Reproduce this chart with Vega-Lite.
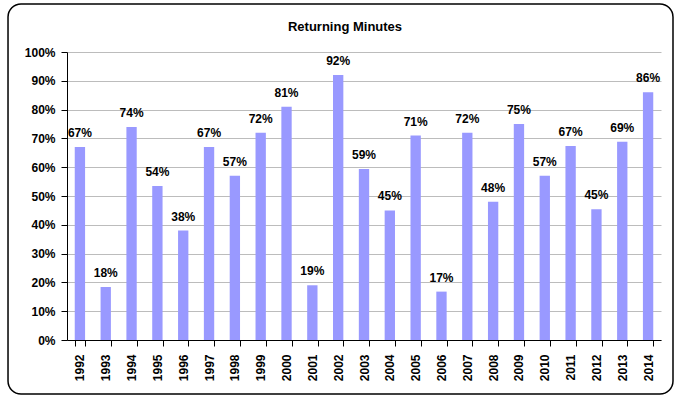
{
  "$schema": "https://vega.github.io/schema/vega-lite/v6.json",
  "width": 594,
  "height": 288,
  "autosize": {"type": "none"},
  "padding": {"left": 67, "top": 52, "right": 20, "bottom": 58},
  "background": "white",
  "config": {"view": {"stroke": null}, "font": "Liberation Sans"},
  "title": {"text": "Returning Minutes", "fontSize": 13, "fontWeight": "bold", "color": "black", "font": "Liberation Sans", "dx": -19, "offset": -31},
  "layer": [
    {
      "data": {"values": [{}]},
      "mark": {"type": "rect", "fill": null, "stroke": "black", "strokeWidth": 1.5, "cornerRadius": 13},
      "encoding": {
        "x": {"datum": -0.0993, "type": "quantitative", "scale": {"domain": [0, 1]}, "axis": null},
        "x2": {"datum": 1.0202},
        "y": {"datum": 1.1667, "type": "quantitative", "scale": {"domain": [0, 1]}, "axis": null},
        "y2": {"datum": -0.1875}
      }
    },
    {
      "data": {"values": [
        {"year": "1992", "value": 0.67},
        {"year": "1993", "value": 0.184},
        {"year": "1994", "value": 0.74},
        {"year": "1995", "value": 0.535},
        {"year": "1996", "value": 0.38},
        {"year": "1997", "value": 0.67},
        {"year": "1998", "value": 0.57},
        {"year": "1999", "value": 0.72},
        {"year": "2000", "value": 0.81},
        {"year": "2001", "value": 0.19},
        {"year": "2002", "value": 0.92},
        {"year": "2003", "value": 0.594},
        {"year": "2004", "value": 0.45},
        {"year": "2005", "value": 0.71},
        {"year": "2006", "value": 0.168},
        {"year": "2007", "value": 0.72},
        {"year": "2008", "value": 0.48},
        {"year": "2009", "value": 0.75},
        {"year": "2010", "value": 0.57},
        {"year": "2011", "value": 0.674},
        {"year": "2012", "value": 0.454},
        {"year": "2013", "value": 0.688},
        {"year": "2014", "value": 0.86}
      ]},
      "encoding": {
        "x": {
          "field": "year", "type": "nominal", "sort": null,
          "scale": {"paddingInner": 0.6, "paddingOuter": 0.3},
          "axis": {
            "title": null, "labelAngle": 270, "labelFontSize": 12, "labelFontWeight": "bold",
            "labelColor": "black", "labelPadding": 8, "tickBand": "extent", "tickSize": 6,
            "tickColor": "black", "domainColor": "black", "grid": false, "labelFont": "Liberation Sans"
          }
        },
        "y": {
          "field": "value", "type": "quantitative",
          "scale": {"domain": [0, 1]},
          "axis": {
            "title": null, "format": ".0%", "values": [0, 0.1, 0.2, 0.3, 0.4, 0.5, 0.6, 0.7, 0.8, 0.9, 1],
            "labelOverlap": false,
            "labelFontSize": 12, "labelFontWeight": "bold", "labelColor": "black", "labelPadding": 6,
            "tickSize": 6, "tickColor": "black", "domainColor": "black", "grid": true,
            "gridColor": "#bcbcbc", "labelFont": "Liberation Sans"
          }
        }
      },
      "layer": [
        {"mark": {"type": "bar", "color": "#9999ff"}},
        {
          "mark": {"type": "text", "baseline": "alphabetic", "dy": -10, "fontSize": 12, "fontWeight": "bold", "color": "black", "font": "Liberation Sans"},
          "encoding": {"text": {"field": "value", "type": "quantitative", "format": ".0%"}}
        }
      ]
    }
  ],
  "resolve": {"scale": {"x": "independent", "y": "independent"}}
}
